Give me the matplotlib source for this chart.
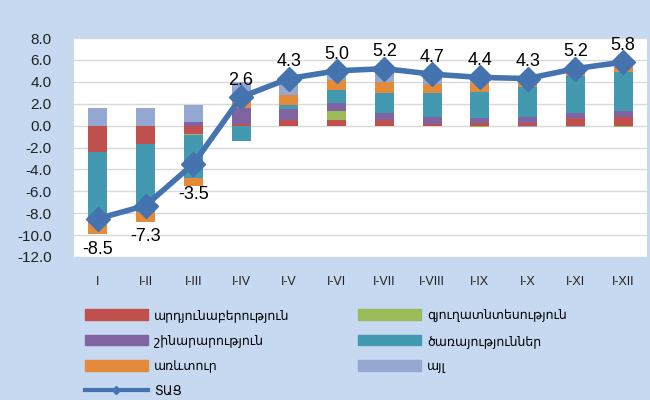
import numpy as np
import matplotlib
matplotlib.use("Agg")
import matplotlib.pyplot as plt
from matplotlib.lines import Line2D
from matplotlib.patches import Patch

periods = ["I", "I-II", "I-III", "I-IV", "I-V", "I-VI", "I-VII", "I-VIII",
           "I-IX", "I-X", "I-XI", "I-XII"]

# ներդրումներ ըստ ճյուղերի (տոկոսային կետ)
industry = [-2.4, -1.7, -0.8, 0.15, 0.55, 0.55, 0.55, 0.15, 0.25, 0.2, 0.65, 0.8]
agriculture = [0.0, 0.0, -0.1, 0.0, 0.0, 0.8, 0.0, 0.0, -0.1, 0.0, 0.0, -0.1]
construction = [0.0, 0.0, 0.3, 1.5, 1.0, 0.75, 0.6, 0.65, 0.45, 0.55, 0.5, 0.55]
services = [-6.5, -6.2, -3.9, -1.4, 0.3, 1.15, 1.85, 2.15, 2.4, 2.8, 3.35, 3.5]
trade = [-1.0, -0.9, -0.75, 0.6, 0.9, 0.9, 0.95, 0.85, 0.8, 0.75, 0.8, 1.05]
other = [1.6, 1.6, 1.55, 1.7, 1.55, 0.85, 1.25, 0.9, 0.5, -0.1, -0.1, 0.0]
gdp = [-8.5, -7.3, -3.5, 2.6, 4.3, 5.0, 5.2, 4.7, 4.4, 4.3, 5.2, 5.8]

names = ["արդյունաբերություն", "գյուղատնտեսություն", "շինարարություն",
         "ծառայություններ", "առևտուր", "այլ"]
line_name = "ՏԱՑ"
colors = ["#C0504D", "#9BBB59", "#8064A2", "#4299B0", "#E38A3B", "#95A8D2"]
line_color = "#4473B0"
bg = "#C6D9F1"

plt.rcParams['font.family'] = ['Liberation Sans', 'DejaVu Sans']

fig = plt.figure(figsize=(6.5, 4.0), dpi=100, facecolor=bg)
ax = fig.add_axes([0.1138, 0.3575, 0.8815, 0.5475])
ax.set_facecolor("white")

x = np.arange(len(periods))
pos_bottom = np.zeros(len(periods))
neg_bottom = np.zeros(len(periods))
for vals, col in zip([industry, agriculture, construction, services, trade, other], colors):
    v = np.array(vals)
    bottom = np.where(v >= 0, pos_bottom, neg_bottom)
    ax.bar(x, v, 0.4, bottom=bottom, color=col, zorder=2)
    pos_bottom += np.where(v > 0, v, 0)
    neg_bottom += np.where(v < 0, v, 0)

ax.plot(x, gdp, color=line_color, lw=4, marker="D", markersize=12, zorder=3)

for i, v in enumerate(gdp):
    if i < 3:
        ax.annotate(f"{v:.1f}", (x[i], v), xytext=(0, -16), textcoords="offset points",
                    ha="center", va="top", fontsize=13, color="black")
    else:
        ax.annotate(f"{v:.1f}", (x[i], v), xytext=(0, 6), textcoords="offset points",
                    ha="center", va="bottom", fontsize=13, color="black")

ax.set_xlim(-0.5, len(periods) - 0.5)
ax.set_ylim(-12, 8)
ax.set_yticks(np.arange(-12, 8.1, 2))
ax.set_yticklabels([f"{t:.1f}" for t in np.arange(-12, 8.1, 2)])
ax.set_xticks(x)
ax.set_xticklabels(periods)
ax.tick_params(axis="y", length=0, pad=16, labelsize=11, colors="#222222")
ax.tick_params(axis="x", length=0, pad=14, labelsize=9, colors="#222222")
ax.grid(axis="y", color="#D9D9D9", lw=1, zorder=0)
for s in ax.spines.values():
    s.set_visible(False)

handles = [Patch(color=c) for c in colors]
line_h = Line2D([], [], color=line_color, lw=3, marker="D", markersize=4)
leg_opts = dict(loc="upper left", frameon=False, fontsize=9, handlelength=5.1,
                handleheight=0.9, labelspacing=1.02, handletextpad=0.45,
                borderaxespad=0, borderpad=0)
fig.legend([handles[0], handles[2], handles[4], line_h],
           [names[0], names[2], names[4], line_name],
           bbox_to_anchor=(0.13, 0.228), **leg_opts)
fig.legend([handles[1], handles[3], handles[5]],
           [names[1], names[3], names[5]],
           bbox_to_anchor=(0.55, 0.228), **leg_opts)

fig.savefig("out.png", dpi=100, facecolor=bg)
